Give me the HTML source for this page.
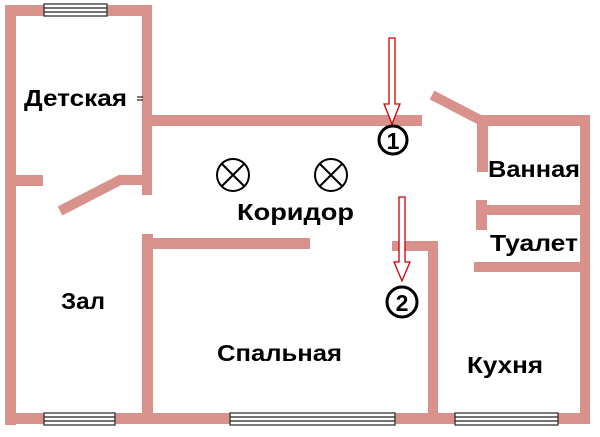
<!DOCTYPE html>
<html><head><meta charset="utf-8"><style>
body{margin:0;background:#fff;}
svg{display:block}
text{font-family:"Liberation Sans",sans-serif;font-weight:bold;font-size:23px;fill:#000}
</style></head><body>
<svg width="600" height="437" viewBox="0 0 600 437">
<g fill="#d8918b">
<rect x="5" y="5" width="11" height="420"/>
<rect x="5" y="5" width="147" height="11"/>
<rect x="142" y="5" width="10" height="190"/>
<rect x="142" y="115" width="280" height="11"/>
<rect x="16" y="175" width="27" height="11"/>
<rect x="120" y="175" width="22" height="10"/>
<rect x="5" y="413" width="585" height="11"/>
<rect x="142" y="234" width="11" height="186"/>
<rect x="153" y="238" width="157" height="11"/>
<rect x="392" y="241" width="46" height="10"/>
<rect x="428" y="241" width="10" height="179"/>
<rect x="478" y="115" width="112" height="11"/>
<rect x="580" y="115" width="10" height="308"/>
<rect x="477" y="115" width="11" height="57"/>
<rect x="477" y="205" width="113" height="10"/>
<rect x="476" y="200" width="11" height="30"/>
<rect x="474" y="262" width="116" height="10"/>
</g>
<g stroke="#d8918b" stroke-width="10" stroke-linecap="butt">
<line x1="60" y1="211" x2="122" y2="179"/>
<line x1="432" y1="95" x2="482" y2="121"/>
</g>
<g fill="#fff" stroke="#333" stroke-width="1.3">
<rect x="44" y="4" width="63" height="12"/>
<rect x="44" y="413" width="71" height="12"/>
<rect x="230" y="413" width="165" height="12"/>
<rect x="455" y="413" width="103" height="12"/>
</g>
<g stroke="#222" stroke-width="1.2">
<line x1="44" y1="8" x2="107" y2="8"/><line x1="44" y1="12" x2="107" y2="12"/>
<line x1="44" y1="417" x2="115" y2="417"/><line x1="44" y1="421" x2="115" y2="421"/>
<line x1="230" y1="417" x2="395" y2="417"/><line x1="230" y1="421" x2="395" y2="421"/>
<line x1="455" y1="417" x2="558" y2="417"/><line x1="455" y1="421" x2="558" y2="421"/>
<line x1="137" y1="97" x2="143" y2="97"/><line x1="137" y1="100" x2="143" y2="100"/>
</g>
<g fill="#fff" stroke="#c00" stroke-width="1.3">
<path d="M389,38 H395 V104 H400 L392,124 L384,104 H389 Z"/>
<path d="M399,197 H405 V262 H410 L402,281 L394,262 H399 Z"/>
</g>
<g fill="none" stroke="#000" stroke-width="3">
<circle cx="393" cy="140" r="14"/>
<circle cx="402" cy="302" r="15"/>
</g>
<g fill="none" stroke="#000" stroke-width="2">
<circle cx="233" cy="175" r="16"/><line x1="222" y1="164" x2="244" y2="186"/><line x1="244" y1="164" x2="222" y2="186"/>
<circle cx="331" cy="175" r="16"/><line x1="320" y1="164" x2="342" y2="186"/><line x1="342" y1="164" x2="320" y2="186"/>
</g>
<text x="393" y="149" text-anchor="middle" font-size="25">1</text>
<text x="402" y="311" text-anchor="middle" font-size="25">2</text>
<text x="24" y="106" textLength="103" lengthAdjust="spacingAndGlyphs">Детская</text>
<text x="237" y="220" textLength="117" lengthAdjust="spacingAndGlyphs">Коридор</text>
<text x="488" y="177" textLength="92" lengthAdjust="spacingAndGlyphs">Ванная</text>
<text x="490" y="251" textLength="88" lengthAdjust="spacingAndGlyphs">Туалет</text>
<text x="61" y="309" textLength="44" lengthAdjust="spacingAndGlyphs">Зал</text>
<text x="217" y="361" textLength="125" lengthAdjust="spacingAndGlyphs">Спальная</text>
<text x="467" y="373" textLength="76" lengthAdjust="spacingAndGlyphs">Кухня</text>
</svg>
</body></html>
